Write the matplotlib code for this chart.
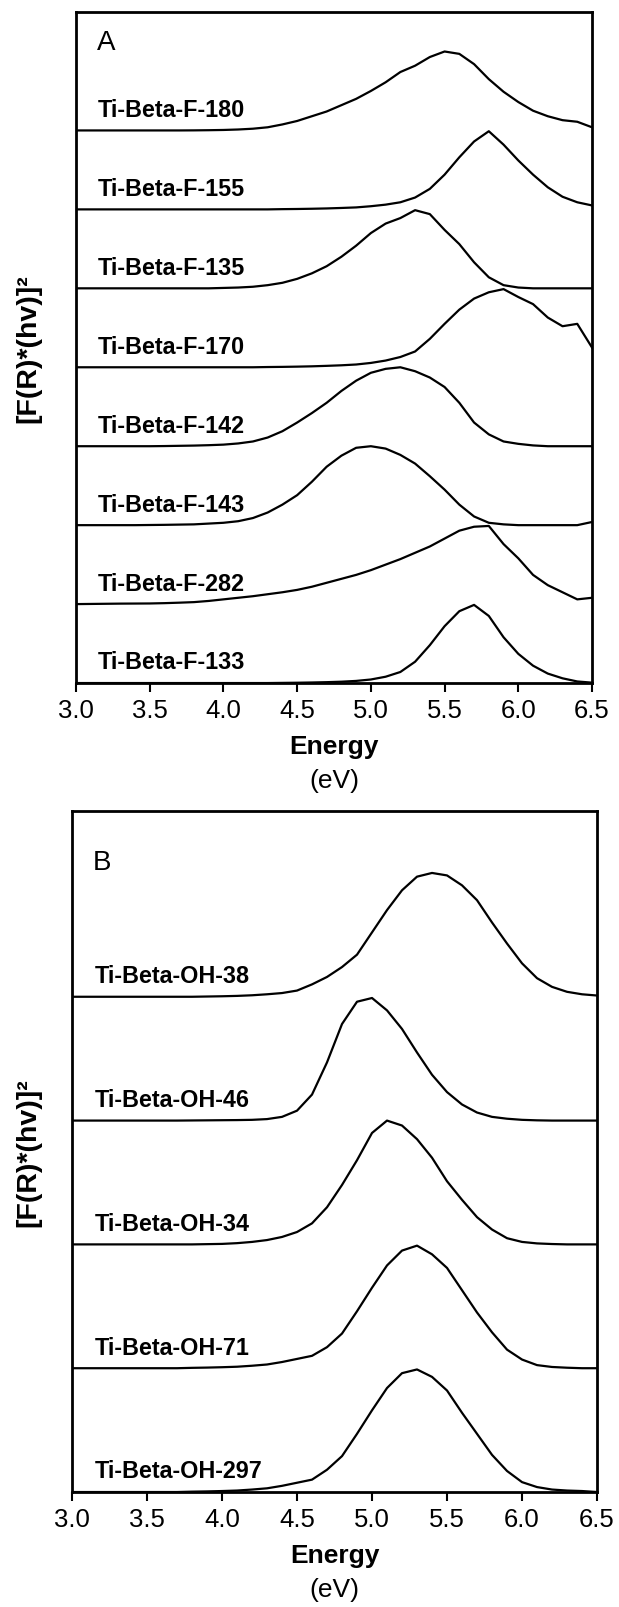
import matplotlib
matplotlib.use("Agg")
import matplotlib.pyplot as plt

plt.rcParams['font.family'] = ['Liberation Sans', 'DejaVu Sans']

# energy grid (eV) shared by all spectra
energy = [3.0, 3.1, 3.2, 3.3, 3.4, 3.5, 3.6, 3.7, 3.8, 3.9,
          4.0, 4.1, 4.2, 4.3, 4.4, 4.5, 4.6, 4.7, 4.8, 4.9,
          5.0, 5.1, 5.2, 5.3, 5.4, 5.5, 5.6, 5.7, 5.8, 5.9,
          6.0, 6.1, 6.2, 6.3, 6.4, 6.5]

# Panel A, listed from bottom to top
labels_a = ["Ti-Beta-F-133", "Ti-Beta-F-282", "Ti-Beta-F-143", "Ti-Beta-F-142",
            "Ti-Beta-F-170", "Ti-Beta-F-135", "Ti-Beta-F-155", "Ti-Beta-F-180"]

f133 = [0, 0, 0, 0, 0, 0, 0, 0, 0, 0,
        0, 0, 0, 0, 0.002, 0.004, 0.007, 0.011, 0.017, 0.027,
        0.045, 0.08, 0.14, 0.27, 0.48, 0.72, 0.91, 0.99, 0.85, 0.58,
        0.37, 0.22, 0.12, 0.06, 0.02, 0.005]
f282 = [0, 0.002, 0.004, 0.006, 0.007, 0.008, 0.012, 0.018, 0.025, 0.04,
        0.06, 0.08, 0.1, 0.125, 0.15, 0.18, 0.22, 0.27, 0.32, 0.37,
        0.43, 0.5, 0.57, 0.65, 0.73, 0.83, 0.93, 0.98, 0.99, 0.76,
        0.58, 0.37, 0.24, 0.15, 0.06, 0.08]
f143 = [0, 0, 0, 0, 0, 0.002, 0.004, 0.007, 0.01, 0.02,
        0.03, 0.05, 0.09, 0.16, 0.26, 0.38, 0.55, 0.74, 0.88, 0.98,
        1.0, 0.97, 0.89, 0.78, 0.62, 0.45, 0.26, 0.11, 0.03, 0.01,
        0, 0, 0, 0, 0, 0.04]
f142 = [0, 0, 0, 0, 0, 0, 0.002, 0.005, 0.008, 0.013,
        0.02, 0.035, 0.06, 0.11, 0.19, 0.3, 0.42, 0.55, 0.7, 0.83,
        0.93, 0.98, 1.0, 0.95, 0.87, 0.75, 0.55, 0.3, 0.15, 0.06,
        0.03, 0.01, 0, 0, 0, 0]
f170 = [0, 0, 0, 0, 0, 0, 0, 0, 0, 0,
        0, 0, 0, 0.003, 0.005, 0.008, 0.012, 0.018, 0.025, 0.035,
        0.055, 0.085, 0.13, 0.2, 0.36, 0.55, 0.73, 0.87, 0.95, 0.99,
        0.89, 0.8, 0.63, 0.52, 0.55, 0.25]
f135 = [0, 0, 0, 0, 0, 0, 0, 0, 0, 0,
        0.005, 0.01, 0.02, 0.04, 0.07, 0.12, 0.19, 0.28, 0.4, 0.54,
        0.7, 0.82, 0.89, 0.99, 0.94, 0.74, 0.56, 0.33, 0.14, 0.04,
        0.01, 0, 0, 0, 0, 0]
f155 = [0, 0, 0, 0, 0, 0, 0, 0, 0, 0,
        0, 0, 0, 0, 0.003, 0.005, 0.008, 0.012, 0.018, 0.025,
        0.04, 0.06, 0.09, 0.15, 0.26, 0.44, 0.66, 0.86, 0.99, 0.82,
        0.62, 0.44, 0.28, 0.16, 0.09, 0.05]
f180 = [0, 0, 0, 0, 0, 0, 0, 0, 0.001, 0.003,
        0.006, 0.012, 0.022, 0.04, 0.076, 0.12, 0.18, 0.24, 0.32, 0.4,
        0.5, 0.61, 0.74, 0.82, 0.93, 1.0, 0.97, 0.84, 0.65, 0.49,
        0.36, 0.25, 0.18, 0.13, 0.11, 0.04]
spectra_a = [f133, f282, f143, f142, f170, f135, f155, f180]

# Panel B, listed from bottom to top
labels_b = ["Ti-Beta-OH-297", "Ti-Beta-OH-71", "Ti-Beta-OH-34",
            "Ti-Beta-OH-46", "Ti-Beta-OH-38"]

oh297 = [0, 0, 0, 0, 0, 0, 0, 0, 0.003, 0.005,
         0.008, 0.012, 0.02, 0.03, 0.05, 0.075, 0.1, 0.18, 0.29, 0.47,
         0.66, 0.84, 0.96, 0.99, 0.93, 0.82, 0.64, 0.47, 0.3, 0.17,
         0.08, 0.04, 0.02, 0.012, 0.008, 0]
oh71 = [0, 0, 0, 0, 0, 0, 0, 0, 0.003, 0.005,
        0.008, 0.012, 0.02, 0.03, 0.05, 0.075, 0.1, 0.17, 0.28, 0.46,
        0.65, 0.83, 0.95, 0.99, 0.92, 0.81, 0.63, 0.45, 0.29, 0.15,
        0.07, 0.025, 0.01, 0.004, 0, 0]
oh34 = [0, 0, 0, 0, 0, 0, 0, 0, 0, 0.002,
        0.004, 0.01, 0.02, 0.035, 0.06, 0.1, 0.17, 0.3, 0.48, 0.68,
        0.9, 1.0, 0.96, 0.85, 0.7, 0.51, 0.36, 0.22, 0.12, 0.05,
        0.02, 0.008, 0.003, 0, 0, 0]
oh46 = [0, 0, 0, 0, 0, 0, 0, 0, 0.001, 0.002,
        0.003, 0.004, 0.006, 0.012, 0.03, 0.08, 0.21, 0.47, 0.78, 0.96,
        0.99, 0.89, 0.74, 0.55, 0.37, 0.23, 0.13, 0.065, 0.03, 0.015,
        0.006, 0.002, 0, 0, 0, 0]
oh38 = [0, 0, 0, 0, 0, 0, 0, 0, 0, 0.002,
        0.004, 0.007, 0.012, 0.02, 0.03, 0.05, 0.1, 0.16, 0.24, 0.34,
        0.52, 0.7, 0.86, 0.97, 1.0, 0.98, 0.9, 0.78, 0.6, 0.43,
        0.27, 0.15, 0.08, 0.04, 0.02, 0.01]
spectra_b = [oh297, oh71, oh34, oh46, oh38]

xticks = [3.0, 3.5, 4.0, 4.5, 5.0, 5.5, 6.0, 6.5]


def draw_panel(ax, spectra, labels, letter):
    for i, (vals, name) in enumerate(zip(spectra, labels)):
        ax.plot(energy, [v + i for v in vals], color="black", lw=1.6,
                solid_joinstyle="round")
        ax.annotate(name, xy=(3.15, i), xytext=(0, 10.5),
                    textcoords="offset points", va="baseline", ha="left",
                    fontsize=16.8, fontweight="bold")
    ax.text(3.14, len(spectra) + 0.03, letter, fontsize=20, va="baseline")
    ax.set_xlim(3.0, 6.5)
    ax.set_ylim(0, len(spectra) + 0.5)
    ax.set_yticks([])
    ax.set_xticks(xticks)
    ax.set_xticklabels([f"{t:.1f}" for t in xticks])
    ax.tick_params(axis="x", direction="out", length=6.5, width=1.5,
                   labelsize=18.5, pad=4.5)
    for sp in ax.spines.values():
        sp.set_linewidth(2)
    ax.annotate("Energy", xy=(0.5, 0), xycoords="axes fraction",
                xytext=(0, -45.5), textcoords="offset points",
                ha="center", va="center", fontsize=19, fontweight="bold")
    ax.annotate("(eV)", xy=(0.5, 0), xycoords="axes fraction",
                xytext=(0, -69.5), textcoords="offset points",
                ha="center", va="center", fontsize=19)


fig = plt.figure(figsize=(6.19, 16.08), dpi=100)
ax_a = fig.add_axes([0.1228, 0.5746, 0.8336, 0.4173])
ax_b = fig.add_axes([0.1163, 0.0715, 0.8482, 0.4235])

draw_panel(ax_a, spectra_a, labels_a, "A")
draw_panel(ax_b, spectra_b, labels_b, "B")

for ax in (ax_a, ax_b):
    pos = ax.get_position()
    fig.text(28 / 619, pos.y0 + pos.height / 2, "[F(R)*(hv)]²", rotation=90,
             ha="center", va="center", fontsize=20.5, fontweight="bold")

plt.savefig("out.png", dpi=100)
